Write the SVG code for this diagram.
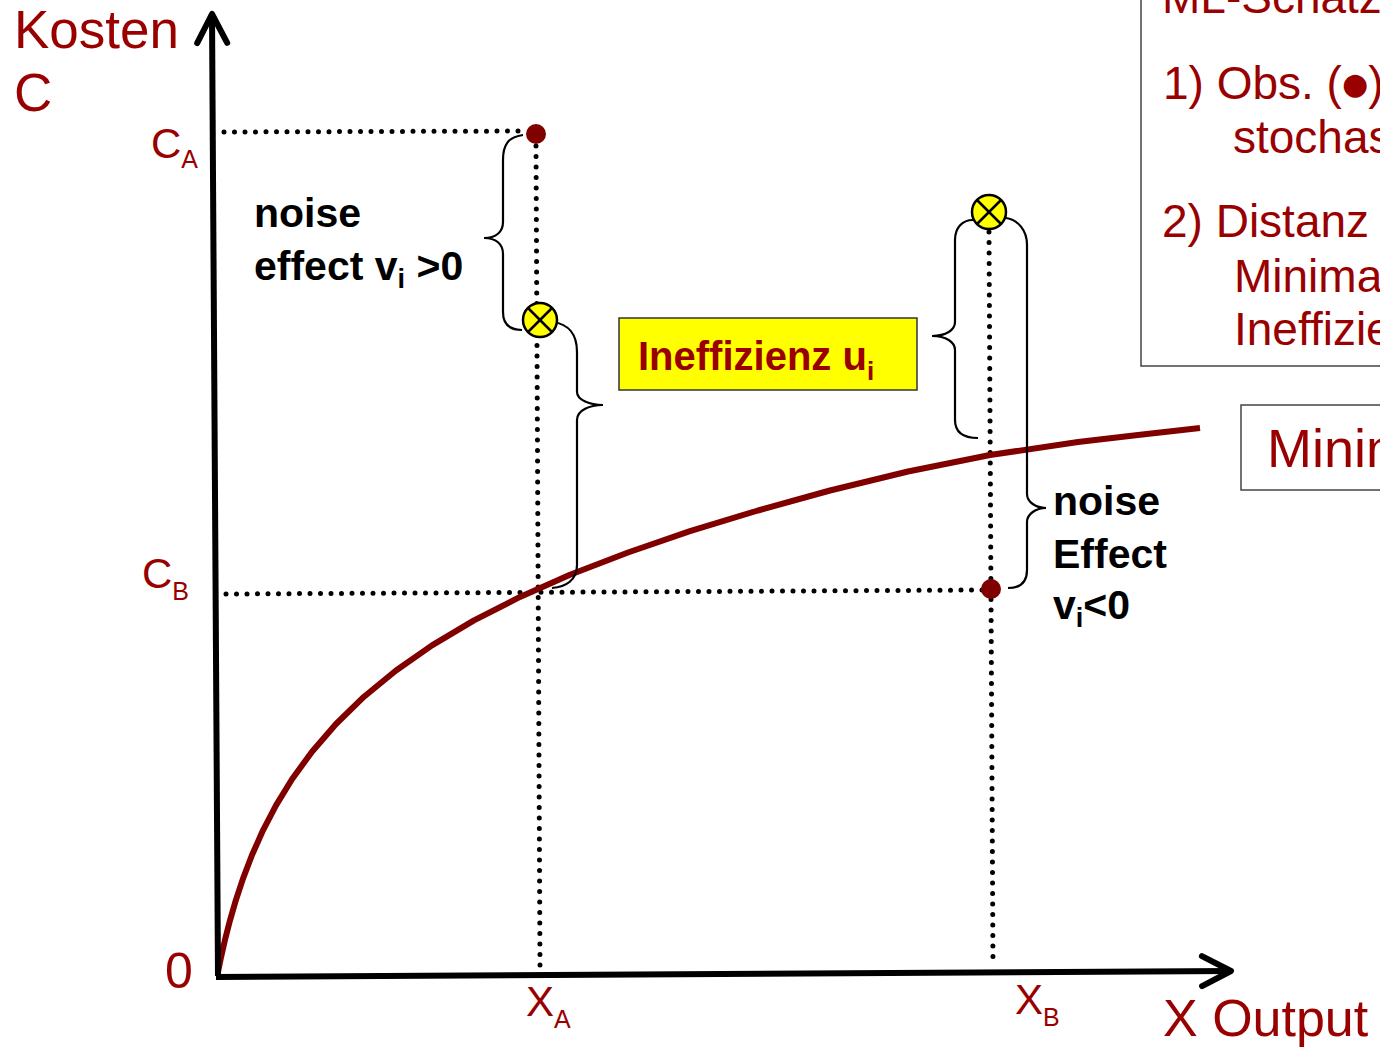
<svg xmlns="http://www.w3.org/2000/svg" width="1380" height="1047" viewBox="0 0 1380 1047">
<style>
.red{fill:#990000;font-family:"Liberation Sans",Arial,sans-serif}
.blk{fill:#000;font-family:"Liberation Sans",Arial,sans-serif;font-weight:bold}
.dot{stroke:#000;stroke-width:5;stroke-dasharray:0 10.5;stroke-linecap:round;fill:none}
.brace{stroke:#000;stroke-width:2.2;fill:none}
.axis{stroke:#000;stroke-width:6;fill:none}
.obs{fill:#800000}
.est{fill:#FFFF00;stroke:#000;stroke-width:2.5}
.cross{stroke:#000;stroke-width:2.5}
.box{fill:#fff;stroke:#444;stroke-width:1.5}
</style>
<defs>
<marker id="arr" markerUnits="userSpaceOnUse" markerWidth="44" markerHeight="44" viewBox="-38 -22 44 44" refX="0" refY="0" orient="auto">
<path d="M-29,-15 L0,0 L-29,15" fill="none" stroke="#000" stroke-width="6" stroke-linecap="round" stroke-linejoin="round"/>
</marker>
</defs>
<rect width="1380" height="1047" fill="#fff"/>

<g id="connectors">
<path class="dot" d="M224,132 L526,131"/>
<path class="dot" d="M226,594 L982,590"/>
<path class="dot" d="M536,146 L540,966"/>
<path class="dot" d="M989,232 L993,964"/>
<polyline fill="none" stroke="#800000" stroke-width="6" stroke-linejoin="round" points="218,972 221,957.4 225,939.8 230,920.3 236,899.7 243,878.6 252,855 263,830.3 276,805.4 292,779.2 312,751.7 336,724 364,696.7 396,670.5 432,645.4 474,620.4 520,596.9 570,574.8 628,552.5 690,531.2 758,510.5 830,490.5 908,471.5 990,455 1078,442 1138,435 1200,428"/>
<line class="axis" x1="218" y1="976" x2="212" y2="14" marker-end="url(#arr)"/>
<line class="axis" x1="216" y1="977" x2="1231" y2="971" marker-end="url(#arr)"/>
<path class="brace" d="M523,135 C508,137 503,145 503,160 L503,222 C503,232 496,238 484,238 C496,238 503,244 503,254 L503,312 C503,324 510,330 522,330"/>
<path class="brace" d="M553,322 C568,324 577,334 577,352 L577,392 C577,400 590,405 603,405 C590,405 577,410 577,420 L577,565 C577,580 566,587 552,588"/>
<path class="brace" d="M973,220 C962,220 955,228 955,240 L955,322 C955,330 946,336 932,336 C946,336 955,342 955,350 L955,420 C955,432 963,438 978,438"/>
<path class="brace" d="M1006,218 C1018,220 1027,230 1027,245 L1027,494 C1027,502 1036,508 1046,508 C1036,508 1027,514 1027,522 L1027,570 C1027,582 1020,588 1008,588"/>
</g>

<g id="pointA"><circle class="obs" cx="536" cy="134" r="10"/></g>
<g id="pointA-frontier">
<circle class="est" cx="540" cy="320" r="17"/>
<line class="cross" x1="528" y1="308" x2="552" y2="332"/>
<line class="cross" x1="552" y1="308" x2="528" y2="332"/>
</g>
<g id="pointB"><circle class="obs" cx="991" cy="589" r="10"/></g>
<g id="pointB-frontier">
<circle class="est" cx="989" cy="212" r="17"/>
<line class="cross" x1="977" y1="200" x2="1001" y2="224"/>
<line class="cross" x1="1001" y1="200" x2="977" y2="224"/>
</g>

<g id="axis-labels">
<text class="red" x="14" y="48" font-size="53">Kosten</text>
<text class="red" x="14" y="111" font-size="53">C</text>
<text class="red" x="151" y="158" font-size="42">C<tspan font-size="25" dy="10">A</tspan></text>
<text class="red" x="142" y="588" font-size="42">C<tspan font-size="25" dy="12">B</tspan></text>
<text class="red" x="165" y="988" font-size="50">0</text>
<text class="red" x="526" y="1016" font-size="42">X<tspan font-size="25" dy="12">A</tspan></text>
<text class="red" x="1015" y="1014" font-size="42">X<tspan font-size="25" dy="12">B</tspan></text>
<text class="red" x="1163" y="1036" font-size="52">X Output</text>
</g>

<g id="noise-A">
<text class="blk" x="254" y="227" font-size="41">noise</text>
<text class="blk" x="254" y="280" font-size="41">effect v<tspan font-size="27" dy="8">i</tspan><tspan dy="-8"> &gt;0</tspan></text>
</g>

<g id="ineffizienz">
<rect x="619" y="318" width="298" height="72" fill="#FFFF00" stroke="#333" stroke-width="1.5"/>
<text x="638" y="370" font-size="40" font-family="Liberation Sans, Arial, sans-serif" font-weight="bold" fill="#990000">Ineffizienz u<tspan font-size="26" dy="10">i</tspan></text>
</g>

<g id="noise-B">
<text class="blk" x="1053" y="515" font-size="41">noise</text>
<text class="blk" x="1053" y="568" font-size="41">Effect</text>
<text class="blk" x="1053" y="619" font-size="41">v<tspan font-size="27" dy="8">i</tspan><tspan dy="-8">&lt;0</tspan></text>
</g>

<g id="ml-box">
<rect class="box" x="1141" y="-10" width="260" height="376"/>
<text class="red" x="1162" y="13" font-size="46">ML-Schätz</text>
<text class="red" x="1163" y="99" font-size="46">1) Obs. (<tspan font-family="DejaVu Sans, sans-serif" font-size="30" dy="-5">●</tspan><tspan dy="5">)</tspan></text>
<text class="red" x="1233" y="153" font-size="46">stochas</text>
<text class="red" x="1162" y="237" font-size="46">2) Distanz</text>
<text class="red" x="1234" y="292" font-size="46">Minima</text>
<text class="red" x="1234" y="345" font-size="46">Ineffizie</text>
</g>

<g id="min-box">
<rect class="box" x="1241" y="405" width="160" height="85"/>
<text class="red" x="1267" y="467" font-size="54">Minim</text>
</g>
</svg>
